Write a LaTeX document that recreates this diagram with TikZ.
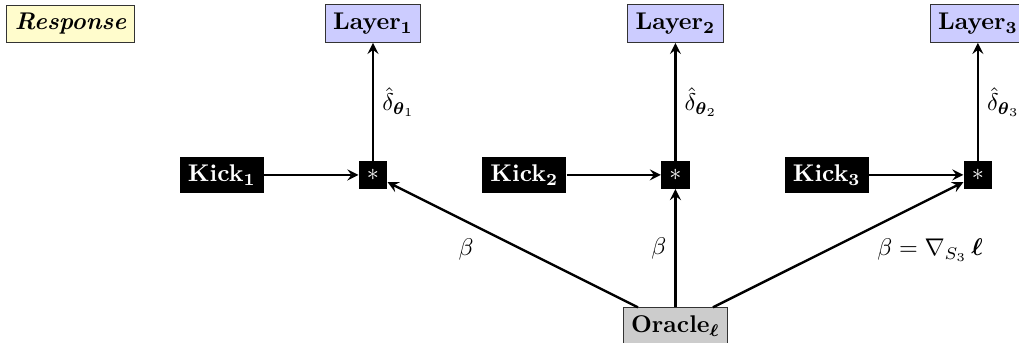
\documentclass[tikz,border=0pt]{standalone}
\usepackage{amsmath}
\usepackage{amssymb}
\usepackage{tikz}
\usetikzlibrary{shapes.geometric, arrows, positioning}
\tikzstyle{layer} = [rectangle, text centered, draw=black!80, fill=blue!20, font=\bfseries]
\tikzstyle{kick} = [rectangle, text centered, fill=black, text=white, font=\bfseries]
\tikzstyle{prod} = [rectangle, text centered, fill=black, text=white]
\tikzstyle{oracle} = [rectangle, text centered, draw=black!80, fill=gray!40, font=\bfseries]
\tikzstyle{tag} = [rectangle, text centered, draw=black!80, fill=yellow!20, font=\bfseries\itshape]
\tikzstyle{arrow} = [line width=1pt,->,>=stealth]
\begin{document}
\begin{tikzpicture}[node distance=2.2cm]
\useasboundingbox (-154.4pt,-69.5pt) rectangle (267.4pt,72.4pt);

\node (M1) [prod] {$*$};

\node (M2) [prod, right of=M1, xshift=2.2cm] {$*$};

\node (M3) [prod, right of=M2, xshift=2.2cm] {$*$};

\node (K1) [kick, left of=M1] {Kick$_{\mathbf{1}}$};
\node (K2) [kick, left of=M2] {Kick$_{\mathbf{2}}$};
\node (K3) [kick, left of=M3] {Kick$_{\mathbf{3}}$};

\node (L1) [layer, above of=M1] {Layer$_{\mathbf{1}}$};
\node (L2) [layer, above of=M2] {Layer$_{\mathbf{2}}$};
\node (L3) [layer, above of=M3] {Layer$_{\mathbf{3}}$};

\node (R) [tag, left of=L1, xshift=-2.2cm] {Response};

\node (O) [oracle, below of=M2] {Oracle$_{\boldsymbol{\ell}}$};

\draw [arrow] (K1) -- (M1);
\draw [arrow] (K2) -- (M2);
\draw [arrow] (K3) -- (M3);
\draw [arrow] (M1) -- node[right] {$\hat{\delta}_{\boldsymbol{\theta}_1}$} (L1);
\draw [arrow] (M2) -- node[right] {$\hat{\delta}_{\boldsymbol{\theta}_2}$} (L2);
\draw [arrow] (M3) -- node[right] {$\hat{\delta}_{\boldsymbol{\theta}_3}$} (L3);
\draw [arrow] (O) -- node[pos=0.62, below left] {$\beta$} (M1);
\draw [arrow] (O) -- node[left] {$\beta$} (M2);
\draw [arrow] (O) -- node[pos=0.62, below right] {$\beta = \nabla_{S_3}\,\boldsymbol{\ell}$} (M3);
\end{tikzpicture}
\end{document}
